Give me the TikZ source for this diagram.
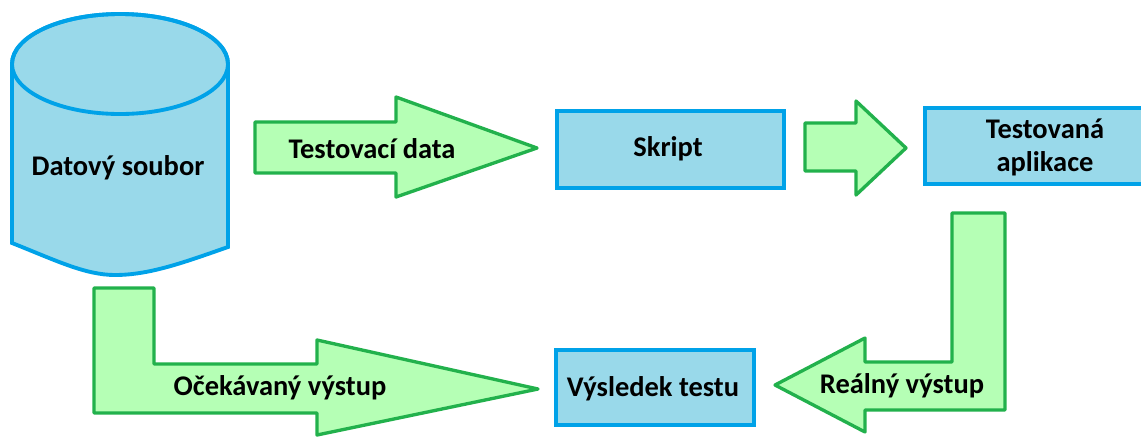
\documentclass[tikz,border=0pt]{standalone}
\usepackage{fontspec}
\setmainfont{Carlito}
\usetikzlibrary{positioning}

\definecolor{boxfill}{RGB}{153,217,234}
\definecolor{boxline}{RGB}{0,162,232}
\definecolor{arrowfill}{RGB}{181,255,181}
\definecolor{arrowline}{RGB}{34,177,76}

\begin{document}
\begin{tikzpicture}[
    x=0.02cm, y=-0.02cm,
    box/.style={rectangle, draw=boxline, fill=boxfill, line width=2.2pt, align=center},
    blockarrow/.style={draw=arrowline, fill=arrowfill, line width=1.9pt, line join=round},
    label/.style={font=\fontsize{16.2}{18.7}\selectfont\bfseries, align=center}
]
\useasboundingbox (0,0) rectangle (1141,437);

% Data file (cylinder)
\draw[draw=boxline, fill=boxfill, line width=2.2pt]
    (12,64) -- (12,243) .. controls (55,260) and (85,275) .. (115,275)
    .. controls (150,275) and (185,262) .. (228,247) -- (228,64)
    arc[start angle=0, end angle=-180, x radius=108, y radius=50] -- cycle;
\draw[draw=boxline, line width=2.2pt] (120,64) ellipse[x radius=108, y radius=50];
\node[label] (soubor) at (118,168) {Datový soubor};

% Boxes
\node[box, minimum width=4.54cm, minimum height=1.54cm] (skript) at (670.5,149.5) {};
\node[label] (skripttext) at (668,149) {Skript};
\node[box, minimum width=4.8cm, minimum height=1.52cm] (aplikace) at (1045,146) {};
\node[label] (aplikacetext) at (1045,147) {Testovaná\\aplikace};
\node[box, minimum width=3.96cm, minimum height=1.5cm] (vysledek) at (655,387.5) {};
\node[label] (vysledektext) at (653,389) {Výsledek testu};

% Block arrows
\draw[blockarrow] (255,122) -- (396,122) -- (396,97) -- (537,148) -- (396,197)
    -- (396,173) -- (255,173) -- cycle;
\node[label] (data) at (372,149) {Testovací data};

\draw[blockarrow] (805,123) -- (856,123) -- (856,101) -- (906,148) -- (856,195)
    -- (856,171) -- (805,171) -- cycle;

\draw[blockarrow] (94,288) -- (154,288) -- (154,364) -- (317,364) -- (317,340)
    -- (538,389) -- (317,435) -- (317,413) -- (94,413) -- cycle;
\node[label] (ocekavany) at (280,388) {Očekávaný výstup};

\draw[blockarrow] (1005,213) -- (1005,410) -- (865,410) -- (865,432) -- (775,385)
    -- (865,338) -- (865,362) -- (952,362) -- (952,213) -- cycle;
\node[label] (realny) at (902,386) {Reálný výstup};

\end{tikzpicture}
\end{document}
